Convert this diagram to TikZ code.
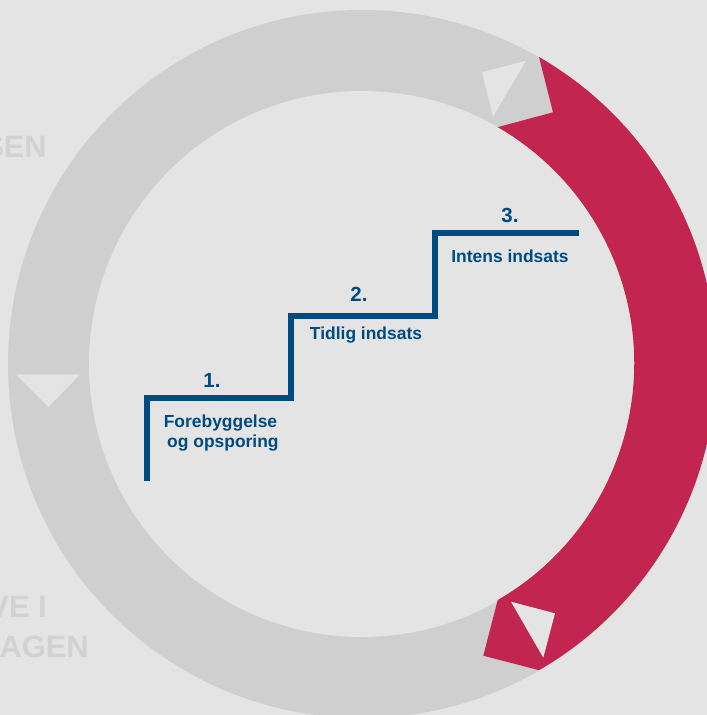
\documentclass[tikz,border=0pt]{standalone}
\usepackage{fontspec}
\setmainfont{Liberation Sans}
\definecolor{bgc}{HTML}{E4E4E4}
\definecolor{ringc}{HTML}{CFCFCF}
\definecolor{redc}{HTML}{C12550}
\definecolor{bluec}{HTML}{004A82}
\definecolor{txtc}{HTML}{D2D2D2}
\tikzset{
  stair/.style={draw=bluec,line width=6.2bp,miter limit=10},
  numlab/.style={text=bluec,font=\fontsize{20.5}{20}\selectfont\bfseries,inner sep=0pt},
  steplab/.style={text=bluec,font=\fontsize{17.5}{21}\selectfont\bfseries,inner sep=0pt,align=center},
  ghost/.style={text=txtc,font=\fontsize{31}{31}\selectfont\bfseries,inner sep=0pt,anchor=base east},
  arrowmark/.style={fill=bgc,draw=none}
}
\begin{document}
\begin{tikzpicture}[x=1bp,y=-1bp]
\useasboundingbox (0,0) rectangle (707,715);
\clip (0,0) rectangle (707,715);
\fill[bgc] (0,0) rectangle (707,715);
\coordinate (c) at (362,364);
% ghost labels
\node[ghost] (g1) at (47,157) {SEN};
\node[ghost] (g2) at (47,617) {VE I};
\node[ghost] (g3) at (89,657) {AGEN};
% grey ring and inner disc
\fill[ringc] (c) circle[radius=354bp];
\fill[bgc] (c) circle[radius=273bp];
% red arc with arrow-shaped ends
\fill[redc] (539,57)
  arc[start angle=60,end angle=-60,radius=354bp]
  -- (483.3,655.7) -- (497.7,600)
  arc[start angle=-60,end angle=60,radius=273bp]
  -- (553,112.3) -- cycle;
% arrow marks
\fill[arrowmark] (482,72.3) -- (526,60.7) -- (493,116.7) -- cycle;
\fill[arrowmark] (511,601.7) -- (555,613.3) -- (543.3,657.7) -- cycle;
\fill[arrowmark] (15.7,374.3) -- (80.3,374.3) -- (48.3,407) -- cycle;
% stairs
\coordinate (s0) at (147,481);
\coordinate (s1) at (147,398);
\coordinate (s2) at (291,398);
\coordinate (s3) at (291,316);
\coordinate (s4) at (435,316);
\coordinate (s5) at (435,233);
\coordinate (s6) at (579,233);
\draw[stair] (s0) -- (s1) -- (s2) -- (s3) -- (s4) -- (s5) -- (s6);
% labels
\node[numlab] (n1) at (212,380) {1.};
\node[numlab] (n2) at (359,294) {2.};
\node[numlab] (n3) at (510,215) {3.};
\node[steplab] (t1) at (220.5,433) {Forebyggelse\\\ og opsporing};
\node[steplab] (t2) at (366,335.5) {Tidlig indsats};
\node[steplab] (t3) at (510,256) {Intens indsats};
\end{tikzpicture}
\end{document}
